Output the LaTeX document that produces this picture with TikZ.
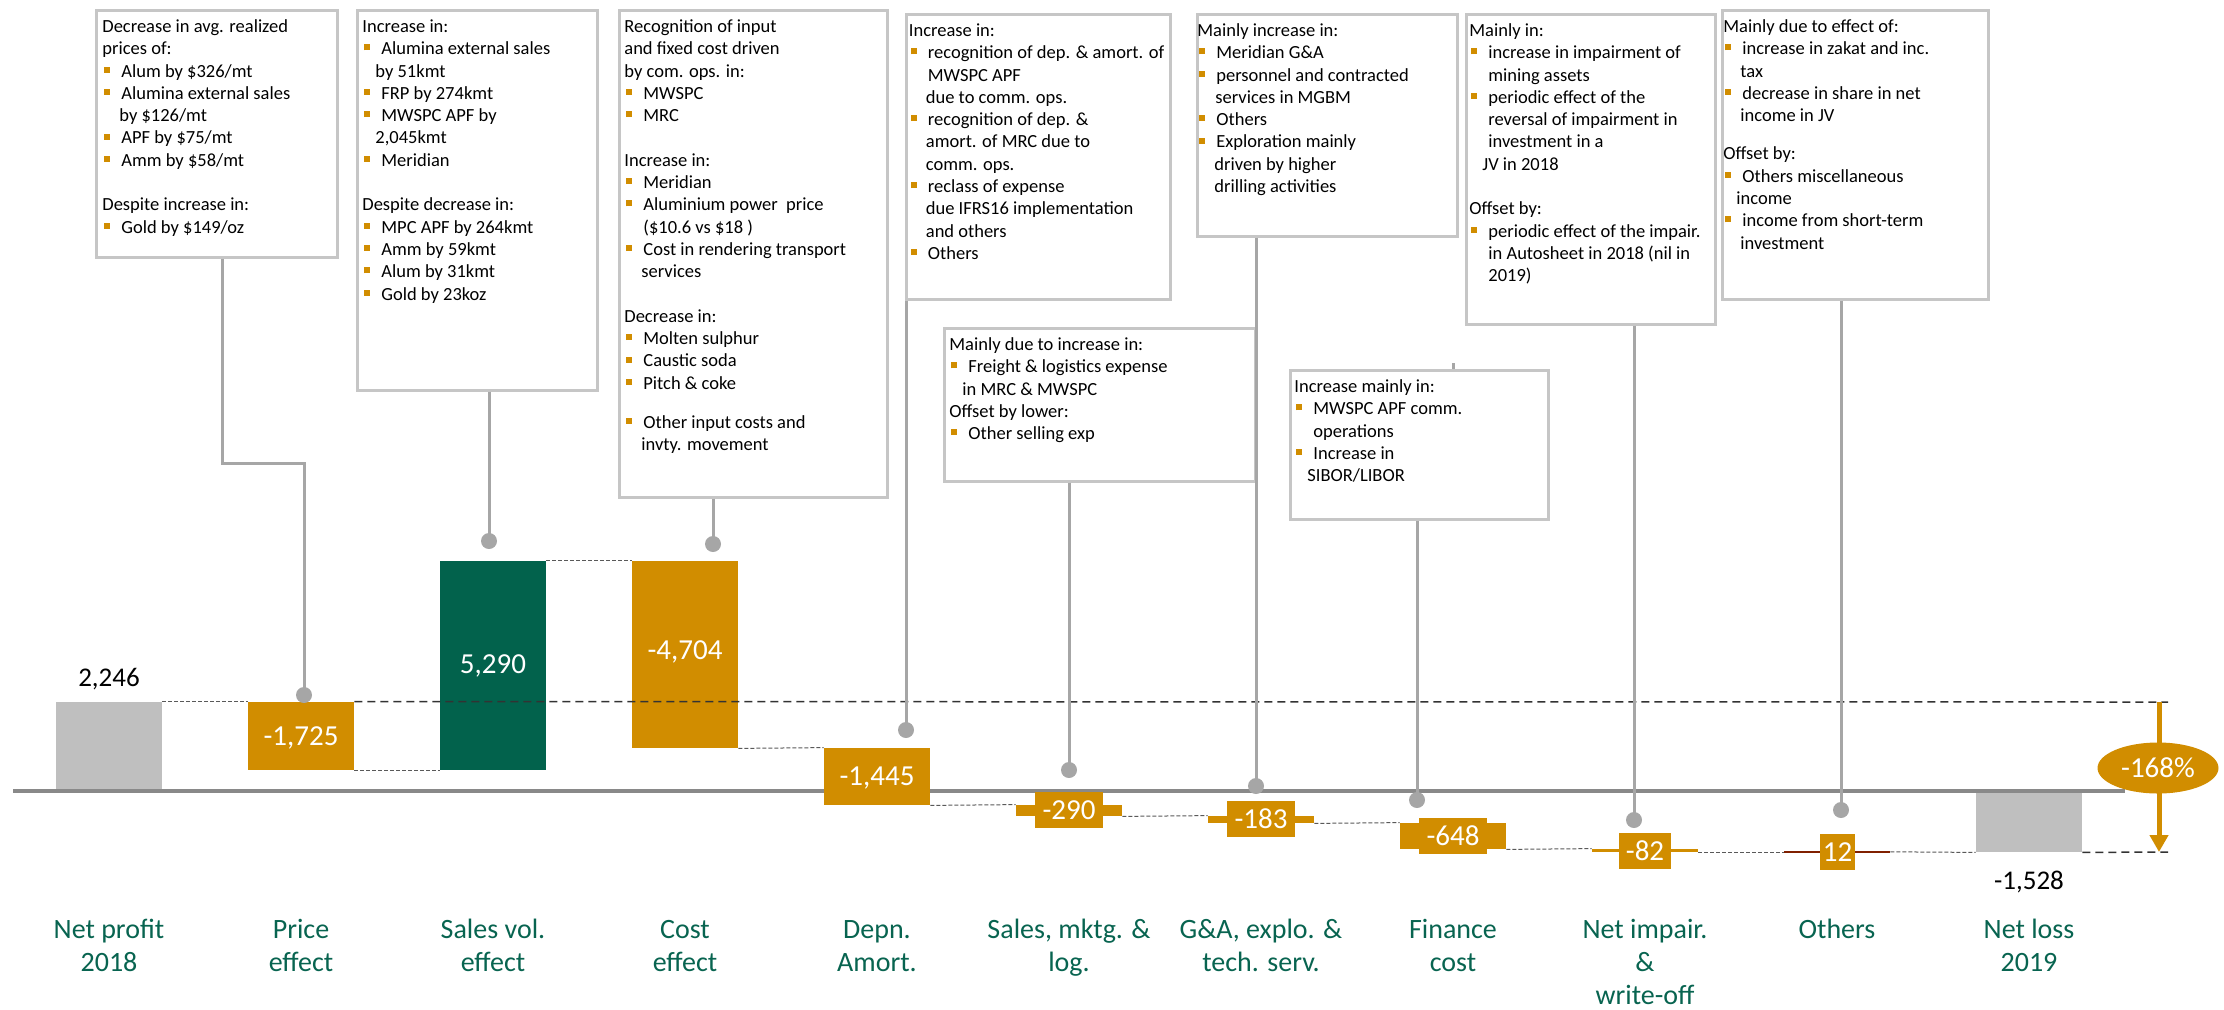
\documentclass[tikz,border=0pt]{standalone}
\usepackage{fontspec}
\setmainfont{Carlito}
\usetikzlibrary{arrows.meta,shapes.geometric}
\definecolor{gold}{RGB}{209,141,0}
\definecolor{dgreen}{RGB}{2,98,76}
\definecolor{lgreen}{RGB}{8,100,80}
\definecolor{barGray}{RGB}{191,191,191}
\definecolor{axisGray}{RGB}{137,137,137}
\definecolor{connGray}{RGB}{166,166,166}
\definecolor{boxGray}{RGB}{198,198,198}
\definecolor{dred}{RGB}{128,32,0}
\newcommand\bul{\makebox[9.5pt][l]{\hspace{1pt}\raisebox{2.2pt}{\textcolor{gold}{\rule{3pt}{3pt}}}}}
\newcommand\ind{\hspace{9.5pt}}
\newcommand\cnt{\hspace{8.5pt}}
\newcommand\cns{\hspace{6.5pt}}
\newcommand\fst{\rule{0pt}{7.5pt}}
\begin{document}
\begin{tikzpicture}[x=0.5pt,y=-0.5pt,
  cbox/.style={draw=boxGray, line width=1.25pt, anchor=north west, inner sep=0},
  btext/.style={anchor=north west, inner sep=0, align=left, font=\fontsize{9.25pt}{11.15pt}\selectfont},
  bar/.style={inner sep=0, minimum width=53pt},
  val/.style={text=white, inner sep=0, font=\fontsize{14.5pt}{17pt}\selectfont},
  lbl/.style={fill=gold, text=white, inner sep=0, minimum height=18pt, font=\fontsize{14.5pt}{17pt}\selectfont},
  cat/.style={text=lgreen, align=center, anchor=north, inner sep=0, font=\fontsize{14pt}{16.5pt}\selectfont},
  tot/.style={anchor=base, inner sep=0, font=\fontsize{13.5pt}{16pt}\selectfont},
  conn/.style={draw=connGray, line width=1.5pt},
  pinpt/.style={circle, fill=connGray, minimum size=8pt, inner sep=0},
  refdash/.style={draw=black!80, line width=0.75pt, dash pattern=on 4pt off 2.5pt},
  cdash/.style={draw=black!65, line width=0.5pt, dash pattern=on 2pt off 1pt}]
\useasboundingbox (0,0) rectangle (2224,1009);

% axis
\coordinate (ax1) at (13,791);
\coordinate (ax2) at (2125,791);
\draw[axisGray, line width=2.25pt] (ax1) -- (ax2);

% bars
\node[bar, fill=barGray, minimum height=43.5pt] (b0) at (109,745.5) {};
\node[bar, fill=gold, minimum height=34pt] (b1) at (301,736) {};
\node[bar, fill=dgreen, minimum height=104.5pt] (b2) at (493,665.5) {};
\node[bar, fill=gold, minimum height=93.5pt] (b3) at (685,654.5) {};
\node[bar, fill=gold, minimum height=28.5pt] (b4) at (877,776.5) {};
\node[bar, fill=gold, minimum height=5.5pt] (b5) at (1069,810.5) {};
\node[bar, fill=gold, minimum height=3.5pt] (b6) at (1261,819.5) {};
\node[bar, fill=gold, minimum height=13pt] (b7) at (1453,836) {};
\node[bar, fill=gold, minimum height=1.5pt] (b8) at (1645,850.5) {};
\node[bar, fill=dred, minimum height=1pt] (b9) at (1837,851.8) {};
\node[bar, fill=barGray, minimum height=29.5pt] (b10) at (2029,822.5) {};

% value labels
\node[val] (v1) at (301,738) {-1,725};
\node[val] (v2) at (493,666) {5,290};
\node[val] (v3) at (685,652) {-4,704};
\node[val] (v4) at (877,778) {-1,445};
\node[lbl, minimum width=34pt] (v5) at (1069,810) {-290};
\node[lbl, minimum width=34pt] (v6) at (1261,819) {-183};
\node[lbl, minimum width=34pt] (v7) at (1453,836) {-648};
\node[lbl, minimum width=26pt] (v8) at (1645,851) {-82};
\node[lbl, minimum width=17.5pt] (v9) at (1837.5,852) {12};

% dashed step connectors
\draw[cdash] (b0.north east) -- (b1.north west);
\draw[cdash] (b1.south east) -- (b2.south west);
\draw[cdash] (b2.north east) -- (b3.north west);
\draw[cdash] (b3.south east) -- (b4.north west);
\draw[cdash] (b4.south east) -- (b5.north west);
\draw[cdash] (b5.south east) -- (b6.north west);
\draw[cdash] (b6.south east) -- (b7.north west);
\draw[cdash] (b7.south east) -- (b8.north west);
\draw[cdash] (b8.south east) -- (b8.south east -| b9.west);
\draw[cdash] (b9.east) -- (b10.south west);

% reference lines and arrow
\coordinate (ar1) at (2168,702);
\coordinate (ar2) at (2168,852);
\draw[refdash] (b1.north east) -- (ar1);
\draw[refdash] (b10.south east) -- (ar2);
\coordinate (aT) at (2159,702);
\coordinate (aB) at (2159,852);
\draw[gold, line width=2.5pt, -{Triangle[width=9pt,length=8.5pt]}] (aT) -- (aB);
\node[ellipse, fill=gold, minimum width=60.5pt, minimum height=25.5pt, inner sep=0, text=white, font=\fontsize{14.5pt}{17pt}\selectfont] (pct) at (2158,768) {-168\%};

% totals
\node[tot] (tot1) at (109,686) {2,246};
\node[tot] (tot2) at (2029,889) {-1,528};

% category labels
\node[cat] (c0) at (109,918) {\rule{0pt}{10pt}Net profit\\2018};
\node[cat] (c1) at (301,918) {\rule{0pt}{10pt}Price\\effect};
\node[cat] (c2) at (493,918) {\rule{0pt}{10pt}Sales vol.\\effect};
\node[cat] (c3) at (685,918) {\rule{0pt}{10pt}Cost\\effect};
\node[cat] (c4) at (877,918) {\rule{0pt}{10pt}Depn.\\Amort.};
\node[cat] (c5) at (1069,918) {\rule{0pt}{10pt}Sales, mktg. \&\\log.};
\node[cat] (c6) at (1261,918) {\rule{0pt}{10pt}G\&A, explo. \&\\tech. serv.};
\node[cat] (c7) at (1453,918) {\rule{0pt}{10pt}Finance\\cost};
\node[cat] (c8) at (1645,918) {\rule{0pt}{10pt}Net impair.\\\&\\write-off};
\node[cat] (c9) at (1837,918) {\rule{0pt}{10pt}Others};
\node[cat] (c10) at (2029,918) {\rule{0pt}{10pt}Net loss\\2019};

% callout boxes
\node[cbox, minimum width=120.5pt, minimum height=123.5pt] (box1) at (95,9) {};
\node[cbox, minimum width=120pt, minimum height=190pt] (box2) at (356,9) {};
\node[cbox, minimum width=134pt, minimum height=243.5pt] (box3) at (618,9) {};
\node[cbox, minimum width=132pt, minimum height=142.5pt] (box4) at (905,13) {};
\node[cbox, minimum width=155.5pt, minimum height=76.5pt] (box5) at (943,327) {};
\node[cbox, minimum width=130pt, minimum height=111pt] (box6) at (1196,13) {};
\node[cbox, minimum width=129pt, minimum height=74.5pt] (box7) at (1289,369) {};
\node[cbox, minimum width=124.5pt, minimum height=155pt] (box8) at (1465,13) {};
\node[cbox, minimum width=133pt, minimum height=144.5pt] (box9) at (1721,9) {};

\node[btext] (t1) at (102,17) {\fst Decrease in avg. realized\\
prices of:\\
\bul Alum by \$326/mt\\
\bul Alumina external sales\\
\cnt by \$126/mt\\
\bul APF by \$75/mt\\
\bul Amm by \$58/mt\\[11.15pt]
Despite increase in:\\
\bul Gold by \$149/oz};

\node[btext] (t2) at (362,17) {\fst Increase in:\\
\bul Alumina external sales\\
\cns by 51kmt\\
\bul FRP by 274kmt\\
\bul MWSPC APF by\\
\cns 2,045kmt\\
\bul Meridian\\[11.15pt]
Despite decrease in:\\
\bul MPC APF by 264kmt\\
\bul Amm by 59kmt\\
\bul Alum by 31kmt\\
\bul Gold by 23koz};

\node[btext] (t3) at (624,17) {\fst Recognition of input\\
and fixed cost driven\\
by com. ops. in:\\
\bul MWSPC\\
\bul MRC\\[11.15pt]
Increase in:\\
\bul Meridian\\
\bul Aluminium power\ \ price\\
\ind(\$10.6 vs \$18 )\\
\bul Cost in rendering transport\\
\cnt services\\[11.15pt]
Decrease in:\\
\bul Molten sulphur\\
\bul Caustic soda\\
\bul Pitch \& coke\\[8.4pt]
\bul Other input costs and\\
\cnt invty. movement};

\node[btext] (t4) at (908.5,21) {\fst Increase in:\\
\bul recognition of dep. \& amort. of\\
\ind MWSPC APF\\
\cnt due to comm. ops.\\
\bul recognition of dep. \&\\
\cnt amort. of MRC due to\\
\cnt comm. ops.\\
\bul reclass of expense\\
\cnt due IFRS16 implementation\\
\cnt and others\\
\bul Others};

\node[btext] (t5) at (949,335) {\fst Mainly due to increase in:\\
\bul Freight \& logistics expense\\
\cns in MRC \& MWSPC\\
Offset by lower:\\
\bul Other selling exp};

\node[btext] (t6) at (1197,21) {\fst Mainly increase in:\\
\bul Meridian G\&A\\
\bul personnel and contracted\\
\hspace{9pt}services in MGBM\\
\bul Others\\
\bul Exploration mainly\\
\cnt driven by higher\\
\cnt drilling activities};

\node[btext] (t7) at (1294,377) {\fst Increase mainly in:\\
\bul MWSPC APF comm.\\
\ind operations\\
\bul Increase in\\
\cns SIBOR/LIBOR};

\node[btext] (t8) at (1469,21) {\fst Mainly in:\\
\bul increase in impairment of\\
\ind mining assets\\
\bul periodic effect of the\\
\ind reversal of impairment in\\
\ind investment in a\\
\cns JV in 2018\\[11.15pt]
Offset by:\\
\bul periodic effect of the impair.\\
\ind in Autosheet in 2018 (nil in\\
\ind 2019)};

\node[btext] (t9) at (1723,17) {\fst Mainly due to effect of:\\
\bul increase in zakat and inc.\\
\cnt tax\\
\bul decrease in share in net\\
\cnt income in JV\\[8pt]
Offset by:\\
\bul Others miscellaneous\\
\cns income\\
\bul income from short-term\\
\cnt investment};

% pins
\node[pinpt] (pP) at (304,695) {};
\node[pinpt] (pS) at (489,541) {};
\node[pinpt] (pC) at (713,544) {};
\node[pinpt] (pD) at (906,730) {};
\node[pinpt] (pM) at (1069,770) {};
\node[pinpt] (pG) at (1256,786) {};
\node[pinpt] (pF) at (1417,800) {};
\node[pinpt] (pI) at (1634,820) {};
\node[pinpt] (pO) at (1841,810) {};

% connectors
\coordinate (k1) at (222,463);
\coordinate (k7) at (1453,363);
\draw[conn] (box1.south -| k1) -- (k1) -| (pP.center);
\draw[conn] (box2.south -| pS) -- (pS.center);
\draw[conn] (box3.south -| pC) -- (pC.center);
\draw[conn] (box4.south -| pD) -- (pD.center);
\draw[conn] (box5.south -| pM) -- (pM.center);
\draw[conn] (box6.south -| pG) -- (pG.center);
\draw[conn] (box7.south -| pF) -- (pF.center);
\draw[conn] (box8.south -| pI) -- (pI.center);
\draw[conn] (box9.south -| pO) -- (pO.center);
\draw[conn] (k7) -- (box7.north -| k7);
\end{tikzpicture}
\end{document}
